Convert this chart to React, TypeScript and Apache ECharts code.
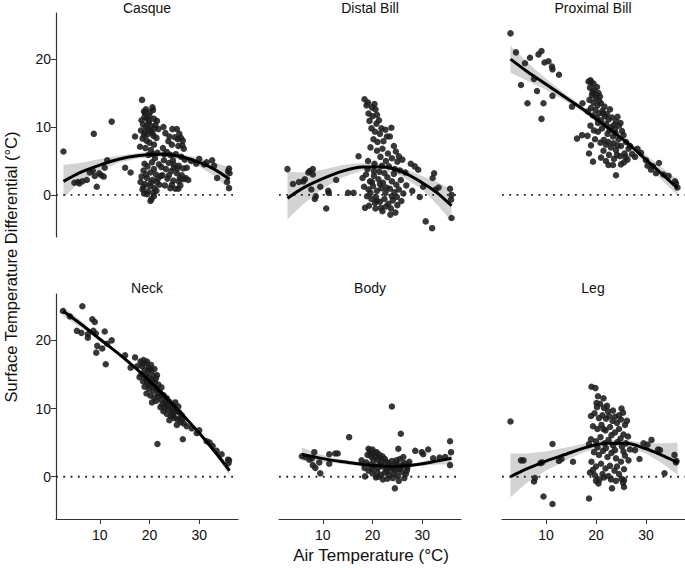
import * as echarts from "echarts";
import React, { useEffect, useRef } from "react";

const FONT = "'Liberation Sans', Arial, Helvetica, sans-serif";

const panelTitles = ["Casque", "Distal Bill", "Proximal Bill", "Neck", "Body", "Leg"];
const xTicks = [10, 20, 30];
const yTicks = [0, 10, 20];

// [air temp, differential]
const casquePoints = [
  [2.7, 6.4], [4.9, 1.8], [5.6, 1.9], [5.9, 1.7], [6.5, 2.0], [7.4, 2.2], [8.0, 3.3], [8.6, 3.6], [8.8, 9.0], [9.0, 2.8],
  [9.4, 1.2], [9.9, 3.2], [10.3, 2.9], [10.8, 2.7], [11.0, 4.0], [11.5, 5.1], [12.4, 10.8], [15.1, 4.0], [16.2, 3.3], [17.1, 8.6],
  [18.5, 14.0], [18.9, 12.3], [19.1, 12.1], [20.6, 12.9], [20.7, 12.5], [18.4, 11.0], [19.0, 11.5], [19.5, 11.3], [20.0, 11.6], [20.9, 11.2],
  [21.5, 10.9], [18.7, 10.4], [19.3, 10.0], [19.8, 10.6], [20.4, 10.1], [21.0, 9.8], [21.8, 9.7], [18.3, 9.5], [19.0, 9.2], [19.6, 8.9],
  [20.2, 9.4], [20.8, 8.7], [21.4, 8.4], [18.6, 8.3], [19.4, 8.0], [20.0, 7.7], [20.9, 7.4], [19.2, 6.9], [20.3, 6.6], [21.6, 6.2],
  [18.1, 7.1], [19.8, 5.9], [21.1, 5.4], [20.5, 4.8], [21.9, 4.5], [19.6, 4.2], [18.8, 3.6], [20.2, 3.3], [21.3, 3.0], [18.4, 2.7],
  [19.5, 2.5], [20.6, 2.2], [21.7, 2.4], [18.2, 1.9], [19.1, 1.6], [20.1, 1.3], [21.0, 1.0], [22.0, 1.5], [18.6, 0.8], [19.7, 0.5],
  [20.8, 0.3], [18.9, 0.2], [20.4, -0.6], [20.2, -0.9], [21.5, 1.9], [22.3, 2.8],
  [19.3, 12.6], [20.1, 12.2], [19.7, 9.7], [20.6, 9.1], [18.9, 8.8], [21.2, 10.3], [19.9, 10.9], [20.7, 6.0], [19.0, 4.6], [20.9, 3.8],
  [19.3, 3.0], [20.3, 1.8], [18.8, 1.2], [21.4, 0.6], [19.5, 0.1], [20.9, -0.2],
  [22.8, 10.0], [24.6, 9.7], [25.5, 9.7], [26.0, 9.0], [26.3, 8.4], [26.7, 8.0], [25.1, 8.5], [23.2, 9.1], [23.8, 7.9], [24.5, 7.4],
  [25.8, 7.2], [26.9, 6.8], [22.7, 6.9], [23.5, 6.3], [24.2, 5.9], [25.3, 6.0], [26.4, 5.6], [27.1, 5.2], [22.9, 5.1], [23.9, 4.7],
  [24.9, 4.5], [25.9, 4.3], [26.8, 3.9], [23.3, 3.8], [24.4, 3.5], [25.5, 3.2], [26.5, 2.9], [27.3, 2.5], [22.6, 2.9], [23.6, 2.4],
  [24.8, 2.1], [25.9, 2.0], [26.9, 2.3], [23.1, 1.4], [24.2, 1.0], [25.2, 0.9], [26.2, 1.4], [24.9, 4.0],
  [24.0, 8.6], [25.7, 8.2], [23.0, 6.0], [24.7, 5.1], [25.6, 3.9], [23.9, 2.9], [26.1, 2.5], [24.5, 1.5], [25.8, 0.9], [22.4, 4.1],
  [27.5, 4.0], [26.6, 7.3],
  [27.8, 2.2], [28.4, 5.0], [29.4, 4.6], [30.0, 5.3], [31.0, 4.5], [31.5, 4.8], [32.6, 5.1], [33.0, 4.3], [33.6, 2.5], [35.6, 1.9],
  [35.8, 3.5], [36.0, 3.9], [36.1, 3.2], [36.0, 1.0]
];

const distalPoints = [
  [2.9, 3.8], [5.2, 1.9], [6.1, 2.0], [6.4, 2.3], [7.1, 3.3], [7.4, 3.5], [8.0, 3.8], [8.0, 3.0], [7.7, 0.8], [8.4, -0.6],
  [8.6, -0.2], [10.7, -2.0], [11.2, 0.3], [11.1, 0.6], [12.7, 2.2], [15.1, 0.3], [16.2, 0.3], [17.2, 5.7], [4.0, 1.6], [9.5, 1.2],
  [18.4, 14.1], [18.8, 13.2], [20.4, 13.4], [20.6, 12.6], [19.2, 12.0], [20.0, 11.6], [19.4, 10.9], [20.8, 10.5], [21.3, 11.0], [19.8, 9.8],
  [20.5, 9.3], [21.5, 9.0], [22.6, 9.6], [23.8, 9.9], [23.5, 8.6], [20.2, 8.2], [21.0, 7.8], [22.2, 7.9], [24.3, 7.2], [19.6, 7.0],
  [20.9, 6.5], [22.0, 6.8], [23.1, 6.1], [24.7, 6.4], [25.3, 5.7], [21.6, 5.6], [22.7, 5.0], [23.9, 5.4], [25.0, 4.9], [26.0, 5.2],
  [19.1, 5.0], [20.4, 4.6], [21.9, 4.3], [23.3, 4.2], [24.5, 3.8],
  [19.1, 13.6], [19.9, 12.9], [20.9, 11.8], [21.8, 9.8], [22.9, 8.6],
  [18.0, 2.5], [18.7, 3.0], [19.5, 2.0], [20.3, 2.8], [21.2, 2.3], [22.1, 1.8], [23.0, 2.6], [23.9, 2.0], [24.8, 1.5], [25.7, 2.2],
  [18.3, 1.2], [19.2, 0.8], [20.1, 1.3], [20.9, 0.6], [21.8, 1.0], [22.6, 0.3], [23.5, 0.9], [24.4, 0.4], [25.3, 0.8], [26.2, 0.2],
  [18.9, -0.2], [19.8, -0.6], [20.7, -0.3], [21.5, -1.0], [22.4, -0.6], [23.2, -1.3], [24.1, -0.8], [25.0, -1.5], [25.8, -0.9], [19.3, -1.6],
  [20.6, -2.0], [22.0, -2.4], [23.7, -2.0], [24.6, -2.6], [18.5, -1.9], [21.4, 3.4], [19.0, 3.8], [26.6, 3.3], [26.8, 1.4],
  [20.3, 3.5], [21.5, 1.6], [22.8, 1.1], [23.9, -0.2], [24.9, -0.3], [19.6, 0.3], [20.5, -1.2], [21.7, -1.9], [22.7, -1.7], [23.6, -2.9],
  [19.9, 1.9], [24.3, 3.1], [25.5, 3.6], [22.4, 3.2], [20.9, -0.9],
  [27.7, 4.6], [28.5, 4.2], [29.2, 3.7], [30.2, 1.2], [32.4, 3.2], [32.1, 2.5], [33.3, 1.1], [32.7, 0.8], [35.6, 0.9], [35.9, 0.0],
  [35.8, -0.7], [35.9, -3.4], [30.7, -3.9], [32.0, -4.9], [28.0, 0.6], [29.5, -0.3]
];

const proximalPoints = [
  [2.9, 23.8], [5.8, 19.4], [6.8, 20.2], [9.1, 21.2], [9.7, 19.5], [10.5, 19.7], [11.2, 18.9], [11.3, 18.5], [12.6, 17.7], [7.6, 17.1],
  [5.0, 16.2], [8.2, 15.3], [11.3, 14.6], [6.3, 13.5], [9.5, 13.5], [9.1, 11.2], [15.2, 13.0], [17.3, 13.5], [16.2, 8.3], [17.2, 8.8],
  [18.6, 6.1], [19.4, 4.9], [24.0, 2.9], [8.5, 20.7], [4.0, 21.0],
  [18.5, 16.7], [19.0, 16.6], [19.5, 16.4], [18.8, 15.8], [19.6, 15.4], [20.2, 15.9], [20.5, 15.0], [19.2, 14.7], [20.0, 14.3], [20.8, 14.5],
  [18.7, 14.0], [19.5, 13.6], [20.3, 13.2], [21.0, 13.5], [19.0, 12.8], [19.9, 12.5], [20.6, 12.0], [21.3, 12.4], [18.4, 12.3], [19.4, 11.7],
  [20.2, 11.3], [21.0, 11.0], [21.8, 11.6], [22.5, 11.1], [23.2, 11.4], [24.0, 10.8], [24.3, 11.5], [22.0, 10.4], [23.0, 10.0], [23.8, 9.7],
  [24.6, 10.2], [25.2, 9.4], [21.2, 9.8], [20.4, 9.3], [19.6, 9.5], [18.9, 10.2], [22.3, 9.0], [23.4, 8.6], [24.5, 8.2], [25.5, 8.8],
  [26.0, 7.8], [19.8, 8.2], [20.9, 7.7], [22.0, 7.4], [23.0, 7.0], [24.0, 6.6], [25.0, 7.2], [26.5, 6.8], [27.2, 6.0], [21.5, 6.5],
  [22.6, 5.9], [23.6, 5.3], [24.8, 5.7], [25.6, 4.8], [26.3, 5.2], [21.0, 5.5], [22.5, 4.4], [23.4, 4.4], [25.0, 4.5], [27.8, 5.6],
  [19.0, 7.3], [18.3, 8.7], [21.7, 13.0], [22.8, 12.6],
  [18.9, 16.9], [19.3, 15.1], [19.9, 14.8], [20.6, 13.9], [21.4, 12.0], [22.2, 11.9], [23.6, 10.3], [24.9, 10.6], [22.7, 9.5], [23.9, 9.1],
  [21.6, 8.1], [22.5, 7.8], [23.5, 7.6], [24.3, 7.3], [25.7, 6.1], [26.8, 7.2], [20.4, 10.6], [24.2, 5.9], [25.9, 5.6], [22.0, 5.0],
  [29.0, 6.2], [30.0, 5.1], [30.3, 4.3], [31.4, 4.2], [32.6, 4.7], [32.0, 3.2], [33.5, 3.0], [34.5, 2.8], [35.8, 2.0], [36.0, 1.7],
  [36.3, 1.1], [28.3, 6.8], [31.0, 3.7]
];

const neckPoints = [
  [2.6, 24.3], [4.0, 23.5], [5.4, 21.4], [6.3, 21.1], [6.5, 25.0], [7.6, 20.9], [7.6, 20.4], [8.5, 23.1], [9.0, 22.7], [8.7, 21.4],
  [9.2, 21.0], [9.3, 18.2], [9.5, 19.2], [10.5, 18.8], [11.0, 21.3], [11.2, 16.5], [11.5, 19.5], [12.4, 20.0], [15.1, 17.8], [16.2, 16.0],
  [17.1, 17.5], [17.5, 16.2], [21.6, 4.8], [26.7, 5.5], [27.5, 7.4], [28.5, 7.1], [30.0, 6.8], [29.5, 6.4], [31.5, 5.2], [32.1, 5.0],
  [32.7, 4.5], [33.5, 3.8], [35.8, 2.5], [36.0, 2.4], [35.9, 2.0], [34.5, 3.3],
  [18.2, 16.9], [18.8, 17.1], [19.3, 16.6], [18.5, 16.2], [19.8, 16.0], [20.3, 16.4], [19.0, 15.6], [19.6, 15.2], [20.4, 15.5], [21.0, 15.8],
  [18.4, 15.0], [19.2, 14.7], [20.0, 14.5], [20.8, 14.8], [21.5, 14.9], [18.7, 14.0], [19.5, 13.8], [20.3, 13.6], [21.1, 13.9], [21.8, 13.5],
  [19.0, 13.2], [19.9, 12.9], [20.7, 12.6], [21.4, 12.9], [22.1, 12.4], [20.2, 11.9], [21.0, 11.6], [21.8, 11.8], [20.5, 10.9], [19.4, 12.2],
  [22.4, 13.1], [18.0, 14.6],
  [18.6, 16.6], [19.5, 16.9], [20.1, 15.8], [19.4, 14.3], [20.6, 14.1], [21.3, 14.4], [19.8, 13.4], [20.9, 13.2], [21.7, 12.2], [22.6, 12.0],
  [21.3, 11.1], [23.7, 10.4], [24.4, 10.1], [25.6, 9.6], [24.8, 8.9], [26.2, 8.6], [25.1, 9.9], [23.1, 11.0], [22.2, 10.2], [26.9, 7.8],
  [22.3, 11.3], [22.9, 11.9], [23.5, 11.5], [22.6, 10.6], [23.3, 10.8], [24.0, 11.0], [24.6, 10.6], [25.2, 10.9], [25.8, 10.3], [23.0, 10.1],
  [23.8, 9.9], [24.5, 9.6], [25.3, 9.8], [26.0, 9.4], [26.5, 9.0], [23.5, 9.2], [24.3, 8.9], [25.0, 8.6], [25.7, 8.4], [26.3, 8.0],
  [24.8, 9.3], [22.8, 9.6], [26.8, 8.6], [25.5, 7.6], [24.0, 8.3]
];

const bodyPoints = [
  [5.8, 3.0], [7.3, 2.5], [8.3, 3.6], [7.8, 2.7], [8.0, 1.7], [8.5, 1.3], [9.3, 2.1], [9.5, 0.5], [11.3, 3.3], [11.3, 1.9],
  [12.5, 3.4], [13.0, 3.4], [15.3, 5.8], [17.8, 2.4], [18.5, 0.05], [23.9, 10.3], [25.7, 6.3], [25.2, 4.1], [24.5, -1.7], [28.6, 3.8],
  [29.9, 3.6], [30.2, 3.3], [31.2, 4.0], [32.2, 2.7], [33.5, 2.8], [35.6, 5.2], [35.8, 3.6], [35.6, 1.7], [34.6, 2.9], [6.5, 2.9],
  [19.2, 4.1], [19.5, 3.8], [20.0, 4.0], [20.4, 3.5], [19.0, 3.2], [19.8, 2.9], [20.6, 3.0], [21.3, 3.3], [22.0, 3.0], [21.0, 2.5],
  [21.8, 2.2], [22.5, 2.6], [23.2, 2.0], [18.7, 2.1], [19.5, 1.8], [20.3, 1.6], [21.1, 1.3], [22.0, 1.5], [22.8, 1.1], [23.6, 1.6],
  [24.3, 1.2], [25.0, 1.8], [25.7, 1.4], [26.4, 2.0], [27.0, 1.3], [19.2, 0.9], [20.0, 0.5], [20.9, 0.7], [21.7, 0.3], [22.5, 0.6],
  [23.4, 0.2], [24.2, 0.5], [25.1, 0.1], [25.9, 0.7], [26.7, 0.4], [18.4, 1.3], [24.8, 2.4], [25.5, 2.6], [26.2, 2.9], [23.0, -0.3],
  [25.3, -0.6], [27.4, 2.2], [20.7, -0.1],
  [19.6, 3.3], [20.8, 3.6], [21.5, 2.8], [20.2, 2.4], [22.7, 2.2], [23.9, 2.3], [24.6, 1.9], [19.9, 1.2], [21.4, 1.8], [23.0, 0.8],
  [23.8, 1.2], [24.7, 0.9], [25.4, 1.1], [26.0, 1.7], [26.9, 0.9], [21.2, 0.0], [22.1, -0.4], [24.1, -0.2], [26.4, -0.2], [27.2, 1.8]
];

const legPoints = [
  [2.9, 8.1], [5.0, 2.4], [5.5, 2.4], [7.6, -0.7], [7.8, -0.2], [8.9, 2.0], [9.2, 2.1], [9.5, -2.9], [11.3, -4.0], [11.3, 4.8],
  [12.6, 2.3], [13.1, 2.6], [15.4, 2.2], [18.6, -3.2], [28.7, 2.6], [29.5, 4.9], [30.3, 4.7], [31.1, 5.4], [32.4, 4.0], [32.8, 3.9],
  [33.7, 0.5], [35.7, 3.2], [36.0, 2.1], [36.1, 2.3], [27.8, 3.9],
  [19.1, 13.2], [19.9, 13.0], [20.4, 11.8], [20.1, 10.8], [20.2, 10.2], [25.1, 10.0], [25.4, 9.4], [23.4, 9.7], [19.0, 8.9], [19.7, 9.3],
  [20.6, 8.6], [21.3, 9.0], [22.0, 8.5], [22.6, 8.9], [23.3, 8.2], [24.2, 7.9], [25.0, 8.4], [25.8, 7.6], [26.2, 8.2], [19.4, 7.4],
  [20.3, 7.0], [21.1, 7.6], [21.9, 6.8], [22.8, 7.3], [23.8, 6.5], [24.6, 7.0], [25.5, 6.2], [26.4, 5.9], [19.0, 5.5], [20.0, 5.2],
  [20.9, 5.8], [21.7, 4.9], [22.5, 5.4], [23.4, 4.6], [24.3, 5.1], [25.2, 4.4], [26.0, 4.9], [26.8, 4.0], [18.6, 4.8], [19.6, 3.6],
  [20.6, 3.2], [21.4, 3.8], [22.3, 2.9], [23.1, 3.5], [24.0, 2.7], [25.0, 2.2], [25.8, 3.1], [19.1, 2.2], [20.0, 1.5], [21.0, 1.9],
  [21.9, 1.2], [22.8, 1.6], [23.7, 0.9], [24.6, 0.4], [25.6, 1.1], [18.8, 0.6], [19.8, 0.2], [20.7, -0.4], [21.6, -0.1], [24.0, -0.6],
  [25.1, -0.3], [25.6, -0.5], [23.2, -1.7], [25.6, -1.5], [20.5, -1.0], [22.2, 10.4], [21.5, 11.5],
  [20.8, 10.7], [21.6, 10.1], [22.4, 9.6], [23.8, 8.8], [24.6, 9.0], [21.5, 7.0], [23.1, 6.1], [24.9, 5.6], [20.3, 4.3], [22.0, 4.2],
  [23.8, 3.9], [25.5, 3.7], [26.5, 2.4], [19.4, 1.0], [21.3, 0.4], [22.5, 0.1], [24.2, 1.5], [25.4, -0.9], [20.0, -0.6], [23.0, -0.4]
];

// fitted curve: [air temp, fit, lower, upper]
const casqueFit = [
  [2.7, 2.0, -0.4, 4.4], [6, 3.3, 1.9, 4.7], [10, 4.4, 3.6, 5.3], [14, 5.3, 4.8, 5.8], [18, 5.8, 5.4, 6.2],
  [22, 6.0, 5.6, 6.4], [26, 5.7, 5.3, 6.1], [30, 4.8, 4.2, 5.4], [33, 3.8, 2.8, 4.8], [36.1, 2.3, 0.8, 4.0]
];
const distalFit = [
  [2.9, -0.5, -3.6, 3.4], [6, 1.0, -1.4, 3.3], [10, 2.4, 0.9, 3.7], [14, 3.5, 2.6, 4.4], [18, 4.1, 3.6, 4.7],
  [22, 4.1, 3.6, 4.6], [26, 3.4, 2.7, 4.0], [30, 1.8, 0.8, 2.8], [33, 0.3, -1.4, 1.9], [35.9, -1.6, -3.9, 0.8]
];
const proximalFit = [
  [2.9, 20.0, 18.0, 22.0], [6, 18.3, 16.9, 19.7], [10, 16.3, 15.5, 17.1], [14, 14.3, 13.8, 14.8], [18, 12.3, 11.9, 12.7],
  [22, 10.1, 9.7, 10.5], [26, 7.8, 7.3, 8.3], [30, 5.2, 4.5, 5.9], [33, 3.2, 2.3, 4.1], [36.3, 1.0, -0.1, 2.3]
];
const neckFit = [
  [2.6, 24.3, 23.6, 25.0], [6, 22.5, 22.0, 23.0], [10, 20.2, 19.9, 20.5], [14, 17.9, 17.7, 18.1], [18, 15.4, 15.2, 15.6],
  [22, 12.6, 12.4, 12.8], [26, 9.6, 9.4, 9.8], [30, 6.4, 6.1, 6.7], [33, 3.8, 3.4, 4.2], [36.1, 0.9, 0.2, 1.6]
];
const bodyFit = [
  [5.8, 3.3, 2.3, 4.3], [9, 2.8, 2.2, 3.4], [12, 2.4, 2.0, 2.8], [15, 2.1, 1.8, 2.4], [18, 1.8, 1.5, 2.1], [21, 1.6, 1.4, 1.8],
  [24, 1.5, 1.3, 1.7], [27, 1.6, 1.4, 1.8], [30, 1.9, 1.6, 2.2], [33, 2.3, 1.8, 2.8], [35.9, 2.7, 1.8, 3.6]
];
const legFit = [
  [2.9, 0.0, -3.0, 3.4], [6, 1.1, -1.0, 3.4], [10, 2.3, 0.9, 3.7], [14, 3.3, 2.4, 4.3], [18, 4.3, 3.7, 4.9],
  [22, 4.9, 4.4, 5.4], [26, 4.9, 4.4, 5.4], [30, 4.1, 3.4, 4.9], [33, 3.2, 2.1, 4.9], [36.3, 2.1, 0.3, 5.0]
];

const panelPoints = [casquePoints, distalPoints, proximalPoints, neckPoints, bodyPoints, legPoints];
const panelFits = [casqueFit, distalFit, proximalFit, neckFit, bodyFit, legFit];

const X_MIN = 1.2;
const X_MAX = 37.8;
const Y_MIN = -6.2;
const Y_MAX = 26.8;

const colLeft = [56, 279, 502];
const rowTop = [13, 294];

const App = () => {
  const ref = useRef(null);

  useEffect(() => {
    const grids = [];
    const xAxes = [];
    const yAxes = [];
    const series = [];

    panelTitles.forEach((_, i) => {
      const col = i % 3;
      const row = Math.floor(i / 3);
      grids.push({
        left: colLeft[col],
        top: rowTop[row],
        width: col === 2 ? 183 : 182,
        height: row === 0 ? 224 : 225
      });
      xAxes.push({
        gridIndex: i,
        type: "value",
        min: X_MIN,
        max: X_MAX,
        show: row === 1,
        axisLine: { show: true, onZero: false, lineStyle: { color: "#333", width: 1.2 } },
        axisTick: { show: true, length: 5, customValues: xTicks, lineStyle: { color: "#333" } },
        axisLabel: { customValues: xTicks, margin: 9, fontSize: 14, color: "#111", fontFamily: FONT },
        splitLine: { show: false }
      });
      yAxes.push({
        gridIndex: i,
        type: "value",
        min: Y_MIN,
        max: Y_MAX,
        show: col === 0,
        axisLine: { show: true, onZero: false, lineStyle: { color: "#333", width: 1.2 } },
        axisTick: { show: true, length: 5, customValues: yTicks, lineStyle: { color: "#333" } },
        axisLabel: { customValues: yTicks, margin: 5, fontSize: 14, color: "#111", fontFamily: FONT },
        splitLine: { show: false }
      });

      const fit = panelFits[i];
      series.push({
        type: "custom",
        xAxisIndex: i,
        yAxisIndex: i,
        silent: true,
        z: 1,
        encode: { x: 0, y: [2, 3] },
        data: fit,
        renderItem: (params, api) => {
          if (params.dataIndex !== 0) return null;
          const top = fit.map((r) => api.coord([r[0], r[3]]));
          const bot = fit.map((r) => api.coord([r[0], r[2]])).reverse();
          return {
            type: "polygon",
            shape: { points: top.concat(bot) },
            style: { fill: "#d3d3d3" }
          };
        }
      });
      series.push({
        type: "line",
        xAxisIndex: i,
        yAxisIndex: i,
        silent: true,
        z: 2,
        symbol: "none",
        data: [[X_MIN, 0], [X_MAX, 0]],
        lineStyle: { color: "#222", width: 1.8, type: [1.8, 5.5] }
      });
      series.push({
        type: "scatter",
        xAxisIndex: i,
        yAxisIndex: i,
        z: 3,
        symbolSize: 6.5,
        data: panelPoints[i],
        itemStyle: { color: "#1c1c1c", opacity: 0.88 }
      });
      series.push({
        type: "line",
        xAxisIndex: i,
        yAxisIndex: i,
        silent: true,
        z: 4,
        symbol: "none",
        smooth: 0.3,
        data: fit.map((r) => [r[0], r[1]]),
        lineStyle: { color: "#000", width: 3 }
      });
    });

    const graphic = panelTitles.map((t, i) => ({
      type: "text",
      x: colLeft[i % 3] + 91,
      y: i < 3 ? 8 : 288,
      style: {
        text: t,
        fontSize: 14,
        fontFamily: FONT,
        fill: "#111",
        textAlign: "center",
        textVerticalAlign: "middle"
      }
    }));
    graphic.push({
      type: "text",
      x: 371,
      y: 555,
      style: {
        text: "Air Temperature (°C)",
        fontSize: 17,
        fontFamily: FONT,
        fill: "#111",
        textAlign: "center",
        textVerticalAlign: "middle"
      }
    });
    graphic.push({
      type: "text",
      x: 11,
      y: 267,
      rotation: Math.PI / 2,
      style: {
        text: "Surface Temperature Differential (°C)",
        fontSize: 16.5,
        fontFamily: FONT,
        fill: "#111",
        textAlign: "center",
        textVerticalAlign: "middle"
      }
    });

    const option = {
      animation: false,
      backgroundColor: "#fff",
      grid: grids,
      xAxis: xAxes,
      yAxis: yAxes,
      series: series,
      graphic: graphic
    };

    const myChart = echarts.init(ref.current, null, { renderer: "svg" });
    myChart.setOption(option);
    return () => {
      myChart.dispose && myChart.dispose();
    };
  }, []);

  return (
    <div
      ref={ref}
      style={{ position: "fixed", left: 0, top: 0, width: 685, height: 568, margin: 0 }}
    ></div>
  );
};

export default App;
